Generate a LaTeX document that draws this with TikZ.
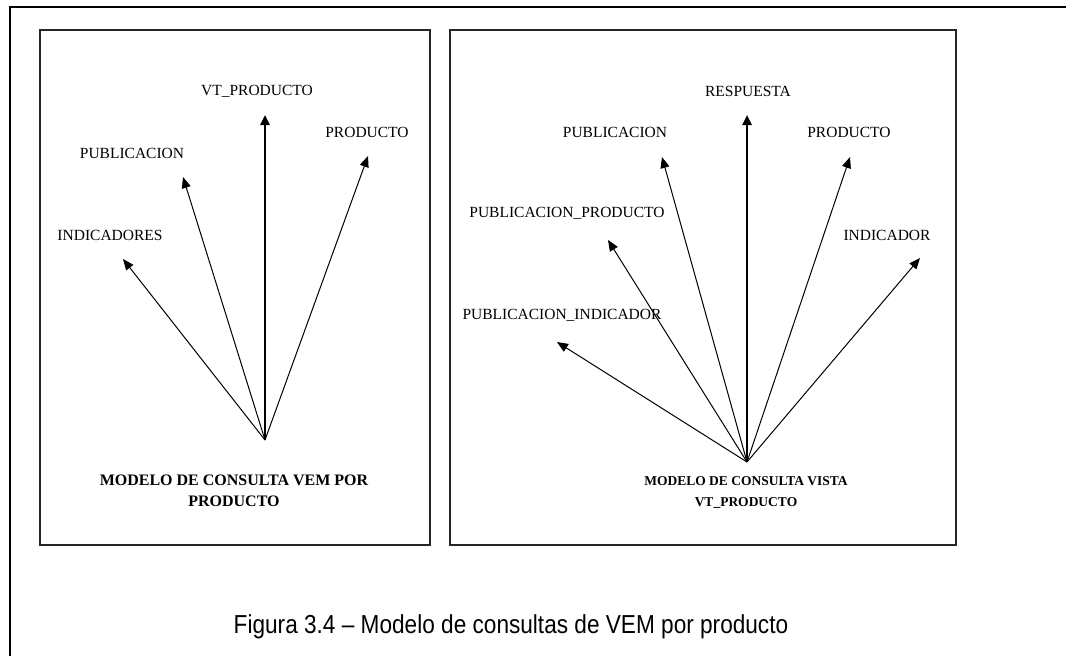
\documentclass[tikz,border=0pt]{standalone}
\usepackage{fontspec}
\usepackage{graphicx}
\usetikzlibrary{arrows.meta}
\setmainfont{Liberation Serif}
\newfontfamily\capfont{Liberation Sans}
\begin{document}
\begin{tikzpicture}[x=1pt,y=-1pt,
  lbl/.style={font=\fontsize{15.5}{18}\selectfont, inner sep=0pt},
  title/.style={font=\bfseries\fontsize{#1}{21}\selectfont, align=center, inner sep=0pt},
  panel/.style={draw=black!85, line width=1.3pt},
  ray/.style={line width=1pt, -{Triangle[length=11pt,width=9pt]}},
  mainray/.style={line width=2.4pt, -{Triangle[length=10pt,width=9pt]}}]
\useasboundingbox (0,0) rectangle (1066,656);
% outer frame
\draw[line width=2.4pt] (10,656) -- (10,7) -- (1066,7);
% panels
\draw[panel] (40,30) rectangle (430,545);
\draw[panel] (450,30) rectangle (956,545);

% ---- left panel: VEM por producto ----
\coordinate (oL) at (265,440);
\node[lbl] (vt)  at (257,91)  {VT\_PRODUCTO};
\node[lbl] (pub) at (132,153) {PUBLICACION};
\node[lbl] (pro) at (367,132) {PRODUCTO};
\node[lbl] (ind) at (110,235) {INDICADORES};
\node[title=16] (mL) at (234,491) {MODELO DE CONSULTA VEM POR\\PRODUCTO};
\coordinate (tvt)  at (265,115);
\coordinate (tpub) at (183,177);
\coordinate (tpro) at (368,156);
\coordinate (tind) at (123,259);
\draw[mainray] (oL) -- (tvt);
\draw[ray] (oL) -- (tpub);
\draw[ray] (oL) -- (tpro);
\draw[ray] (oL) -- (tind);

% ---- right panel: vista VT_PRODUCTO ----
\coordinate (oR) at (747,462);
\node[lbl] (res)  at (748,91)  {RESPUESTA};
\node[lbl] (pub2) at (615,132) {PUBLICACION};
\node[lbl] (pro2) at (849,132) {PRODUCTO};
\node[lbl] (pp)   at (567,213) {PUBLICACION\_PRODUCTO};
\node[lbl] (ind2) at (887,235) {INDICADOR};
\node[lbl] (pi)   at (562,315) {PUBLICACION\_INDICADOR};
\node[title=13.5] (mR) at (746,492) {MODELO DE CONSULTA VISTA\\VT\_PRODUCTO};
\coordinate (tres)  at (747,115);
\coordinate (tpub2) at (662,157);
\coordinate (tpro2) at (850,157);
\coordinate (tpp)   at (608,240);
\coordinate (tind2) at (920,258);
\coordinate (tpi)   at (557,342);
\draw[mainray] (oR) -- (tres);
\draw[ray] (oR) -- (tpub2);
\draw[ray] (oR) -- (tpro2);
\draw[ray] (oR) -- (tpp);
\draw[ray] (oR) -- (tind2);
\draw[ray] (oR) -- (tpi);

% caption
\node[inner sep=0pt] (cap) at (511,627)
  {\scalebox{0.87}[1]{\capfont\fontsize{26}{30}\selectfont Figura 3.4 – Modelo de consultas de VEM por producto}};
\end{tikzpicture}
\end{document}
